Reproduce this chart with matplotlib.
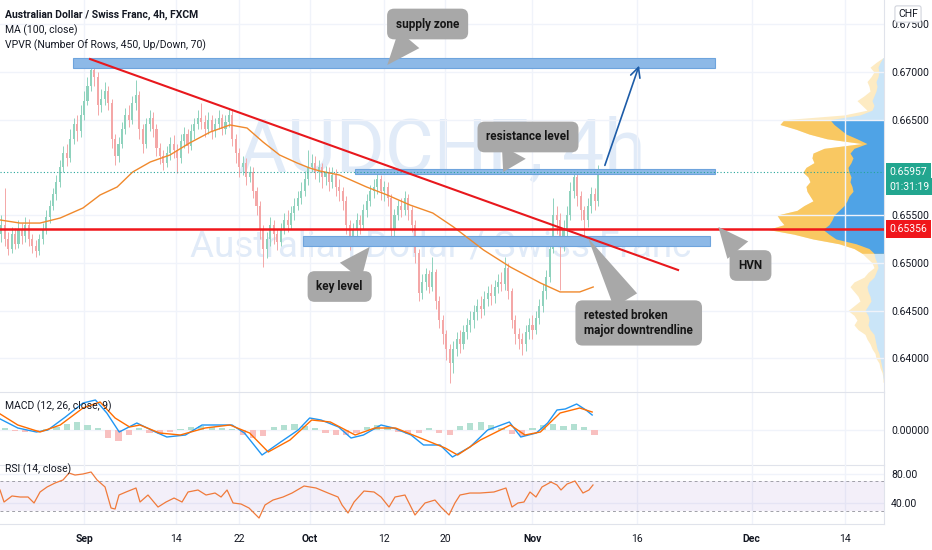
import matplotlib
matplotlib.use("Agg")
import matplotlib.pyplot as plt
from matplotlib.patches import Rectangle
from matplotlib.transforms import blended_transform_factory
import numpy as np

plt.rcParams['font.family'] = ['Roboto', 'DejaVu Sans']

# ---- price data: 4h candles, 3 per trading day, x unit = trading days from Aug 20 ----
first_open = 0.6530
closes = [
    0.6540, 0.6525, 0.6515, 0.6530, 0.6520, 0.6535, 0.6528, 0.6540, 0.6525, 0.6518,
    0.6512, 0.6525, 0.6535, 0.6548, 0.6560, 0.6572, 0.6585, 0.6600, 0.6615, 0.6610,
    0.6630, 0.6645, 0.6638, 0.6655, 0.6670, 0.6685, 0.6702, 0.6695, 0.6665, 0.6672,
    0.6680, 0.6668, 0.6630, 0.6612, 0.6625, 0.6640, 0.6655, 0.6650, 0.6668, 0.6676,
    0.6640, 0.6625, 0.6645, 0.6652, 0.6640, 0.6620, 0.6612, 0.6605, 0.6615, 0.6625,
    0.6618, 0.6610, 0.6628, 0.6635, 0.6622, 0.6638, 0.6645, 0.6652, 0.6648, 0.6640,
    0.6650, 0.6638, 0.6645, 0.6652, 0.6640, 0.6648, 0.6655, 0.6630, 0.6615, 0.6600,
    0.6605, 0.6590, 0.6595, 0.6575, 0.6560, 0.6535, 0.6515, 0.6525, 0.6540, 0.6530,
    0.6522, 0.6535, 0.6545, 0.6540, 0.6552, 0.6560, 0.6568, 0.6575, 0.6588, 0.6600,
    0.6605, 0.6595, 0.6600, 0.6590, 0.6595, 0.6585, 0.6592, 0.6580, 0.6575, 0.6565,
    0.6540, 0.6525, 0.6535, 0.6545, 0.6540, 0.6555, 0.6565, 0.6575, 0.6580, 0.6588,
    0.6575, 0.6580, 0.6568, 0.6535, 0.6550, 0.6560, 0.6555, 0.6568, 0.6555, 0.6540,
    0.6510, 0.6468, 0.6480, 0.6488, 0.6475, 0.6490, 0.6460, 0.6440, 0.6425, 0.6410,
    0.6395, 0.6410, 0.6420, 0.6415, 0.6428, 0.6435, 0.6440, 0.6448, 0.6455, 0.6452,
    0.6462, 0.6468, 0.6465, 0.6475, 0.6480, 0.6478, 0.6495, 0.6470, 0.6440, 0.6425,
    0.6420, 0.6415, 0.6428, 0.6435, 0.6430, 0.6442, 0.6455, 0.6470, 0.6485, 0.6515,
    0.6550, 0.6545, 0.6520, 0.6535, 0.6550, 0.6575, 0.6590, 0.6570, 0.6555, 0.6545,
    0.6560, 0.6572, 0.6565, 0.6596,
]
highs = [
    0.6550, 0.6578, 0.6532, 0.6538, 0.6536, 0.6545, 0.6542, 0.6548, 0.6546, 0.6530,
    0.6524, 0.6530, 0.6542, 0.6555, 0.6566, 0.6578, 0.6592, 0.6608, 0.6622, 0.6625,
    0.6640, 0.6652, 0.6655, 0.6665, 0.6680, 0.6695, 0.6715, 0.6712, 0.6700, 0.6682,
    0.6690, 0.6685, 0.6672, 0.6635, 0.6632, 0.6648, 0.6662, 0.6665, 0.6675, 0.6692,
    0.6680, 0.6645, 0.6652, 0.6660, 0.6658, 0.6645, 0.6626, 0.6618, 0.6622, 0.6632,
    0.6634, 0.6625, 0.6635, 0.6642, 0.6640, 0.6645, 0.6652, 0.6660, 0.6668, 0.6655,
    0.6658, 0.6655, 0.6652, 0.6660, 0.6656, 0.6655, 0.6662, 0.6660, 0.6635, 0.6620,
    0.6612, 0.6610, 0.6602, 0.6600, 0.6580, 0.6565, 0.6540, 0.6532, 0.6548, 0.6545,
    0.6535, 0.6542, 0.6552, 0.6555, 0.6560, 0.6568, 0.6575, 0.6585, 0.6596, 0.6618,
    0.6614, 0.6612, 0.6608, 0.6605, 0.6602, 0.6600, 0.6600, 0.6598, 0.6588, 0.6580,
    0.6570, 0.6545, 0.6542, 0.6552, 0.6550, 0.6562, 0.6572, 0.6582, 0.6588, 0.6594,
    0.6592, 0.6586, 0.6585, 0.6572, 0.6556, 0.6566, 0.6568, 0.6575, 0.6572, 0.6560,
    0.6545, 0.6515, 0.6488, 0.6495, 0.6492, 0.6506, 0.6494, 0.6465, 0.6445, 0.6430,
    0.6415, 0.6418, 0.6428, 0.6430, 0.6435, 0.6442, 0.6450, 0.6456, 0.6462, 0.6465,
    0.6470, 0.6476, 0.6478, 0.6482, 0.6488, 0.6490, 0.6506, 0.6500, 0.6474, 0.6445,
    0.6432, 0.6426, 0.6435, 0.6442, 0.6445, 0.6450, 0.6462, 0.6478, 0.6492, 0.6525,
    0.6568, 0.6560, 0.6552, 0.6545, 0.6560, 0.6585, 0.6597, 0.6594, 0.6575, 0.6560,
    0.6568, 0.6580, 0.6578, 0.6603,
]
lows = [
    0.6522, 0.6518, 0.6508, 0.6510, 0.6514, 0.6516, 0.6520, 0.6522, 0.6518, 0.6510,
    0.6506, 0.6508, 0.6520, 0.6530, 0.6542, 0.6555, 0.6566, 0.6580, 0.6595, 0.6602,
    0.6606, 0.6625, 0.6628, 0.6632, 0.6650, 0.6665, 0.6680, 0.6685, 0.6655, 0.6658,
    0.6665, 0.6660, 0.6620, 0.6603, 0.6606, 0.6620, 0.6635, 0.6642, 0.6645, 0.6660,
    0.6630, 0.6615, 0.6620, 0.6638, 0.6632, 0.6612, 0.6604, 0.6597, 0.6600, 0.6608,
    0.6610, 0.6594, 0.6605, 0.6620, 0.6615, 0.6618, 0.6630, 0.6640, 0.6640, 0.6632,
    0.6635, 0.6630, 0.6632, 0.6640, 0.6634, 0.6635, 0.6642, 0.6622, 0.6605, 0.6590,
    0.6592, 0.6582, 0.6585, 0.6568, 0.6550, 0.6525, 0.6496, 0.6505, 0.6518, 0.6520,
    0.6513, 0.6518, 0.6530, 0.6532, 0.6535, 0.6545, 0.6555, 0.6562, 0.6570, 0.6582,
    0.6595, 0.6588, 0.6585, 0.6578, 0.6582, 0.6575, 0.6578, 0.6570, 0.6565, 0.6555,
    0.6530, 0.6513, 0.6518, 0.6528, 0.6530, 0.6535, 0.6548, 0.6560, 0.6568, 0.6572,
    0.6566, 0.6565, 0.6560, 0.6521, 0.6528, 0.6545, 0.6548, 0.6550, 0.6545, 0.6532,
    0.6500, 0.6460, 0.6462, 0.6472, 0.6468, 0.6470, 0.6452, 0.6432, 0.6415, 0.6398,
    0.6374, 0.6385, 0.6402, 0.6405, 0.6410, 0.6420, 0.6428, 0.6432, 0.6440, 0.6442,
    0.6445, 0.6455, 0.6456, 0.6458, 0.6468, 0.6470, 0.6472, 0.6462, 0.6432, 0.6415,
    0.6410, 0.6403, 0.6408, 0.6420, 0.6420, 0.6425, 0.6436, 0.6448, 0.6462, 0.6480,
    0.6510, 0.6530, 0.6472, 0.6512, 0.6528, 0.6545, 0.6568, 0.6560, 0.6545, 0.6527,
    0.6538, 0.6552, 0.6555, 0.6560,
]

# MA (100, close)
ma_day = [-0.1, 1.8, 3.75, 5.7, 7.9, 9.55, 11.2, 12.7, 14.4, 16.3, 18.2, 20.2, 22.1, 23.75, 25.3,
          26.9, 28.6, 29.8, 30.8, 32.7, 35.3, 37.3, 39.5, 41.7, 43.7, 46.6, 49.2, 52.1, 54.0, 55.9, 57.2]
ma_val = [0.65449, 0.65417, 0.65417, 0.6547, 0.65575, 0.65711, 0.65795, 0.65952, 0.66057, 0.6613,
          0.66256, 0.66371, 0.66445, 0.66413, 0.66266, 0.6613, 0.66046, 0.65994, 0.65962, 0.6592,
          0.65795, 0.65711, 0.65606, 0.65522, 0.65376, 0.65135, 0.64956, 0.64789, 0.64695, 0.64695, 0.64747]

# MACD (12, 26, close, 9)
macd_day = [-0.1, 1.6, 3.4, 4.5, 6.2, 7.9, 9.1, 10.2, 11.4, 13.1, 14.9, 16.0, 17.8, 19.4, 21.1, 22.3,
            23.5, 25.2, 27.0, 28.7, 29.8, 30.9, 32.6, 33.8, 35.0, 36.7, 37.9, 39.6, 40.8, 42.4, 43.6,
            45.3, 47.0, 49.1, 50.2, 51.7, 52.8, 53.7, 54.5, 55.6, 56.5, 57.1]
macd_val = [0.00044, 0.00008, -0.00008, 0.0, 0.00052, 0.00108, 0.0012, 0.00068, -0.00008, 0.00028,
            -0.00008, -0.00028, -0.0002, 0.0002, 0.0002, 0.0002, -0.00012, -0.001, -0.00048, 0.0,
            0.00048, 0.0004, 0.00012, -0.00032, -0.0002, 0.0002, 0.00008, -0.0002, -0.0006, -0.0006,
            -0.00108, -0.00068, 0.0, 0.00032, -0.00028, -0.00012, 0.00028, 0.0008, 0.00084, 0.00104,
            0.0008, 0.0006]
signal_day = [-0.1, 1.6, 3.75, 5.7, 7.9, 9.55, 11.0, 12.4, 13.4, 15.3, 17.3, 19.7, 22.1, 24.0, 25.8,
              27.9, 30.0, 31.8, 34.2, 36.1, 38.1, 40.5, 42.9, 44.1, 46.3, 49.2, 50.6, 52.1, 54.0, 55.9, 57.1]
signal_val = [0.00064, 0.0002, -0.00008, 0.0002, 0.00088, 0.00112, 0.00048, 0.00012, 0.0002, -0.00012,
              -0.0002, 0.00008, 0.0002, -0.00012, -0.00088, -0.0004, 0.0004, 0.00032, -0.0002, 0.00008,
              0.00008, -0.00032, -0.00072, -0.001, -0.0004, 0.0002, -0.0002, -0.00008, 0.00068, 0.00088,
              0.00072]
macd_hist = [0.00008, -0.00004, -0.00008, -0.00004, 0.00004, 0.00012, 0.00024, 0.00032, 0.0002, 0.00008,
             -0.00032, -0.00044, -0.0002, 0.00008, -0.00012, -0.00016, -0.00008, 0.00004, 0.00012, 0.00016,
             0.00012, 0.00008, 0.00004, -0.0002, -0.00032, -0.00024, 0.00012, 0.0002, 0.00024, 0.00016,
             0.00008, -0.00012, -0.0002, -0.0002, -0.00012, 0.00012, 0.0002, 0.00012, -0.00008, -0.00016,
             -0.00012, 0.00008, -0.00012, -0.0002, 0.00016, 0.00028, 0.00032, 0.0002, 0.00008, -0.00016,
             -0.00024, 0.00008, 0.0002, 0.00024, 0.00016, 0.00024, 0.00012, -0.0002]

# RSI (14, close)
rsi_day = [-0.12, 0.27, 1.04, 1.82, 2.59, 3.17, 3.75, 4.43, 5.2, 5.97, 6.55, 7.13, 7.9, 8.68, 9.26,
           10.03, 10.61, 11.0, 11.38, 12.06, 13.02, 13.41, 14.18, 15.15, 15.92, 16.7, 17.47, 18.05,
           19.01, 19.79, 20.66, 21.24, 21.82, 22.4, 23.17, 23.94, 24.91, 25.49, 26.26, 27.23, 28.1,
           29.26, 30.42, 31.58, 32.54, 32.93, 33.51, 34.09, 35.05, 36.02, 36.7, 37.47, 38.05, 39.01,
           39.4, 39.98, 40.95, 41.91, 42.49, 43.27, 43.84, 44.33, 45.29, 46.26, 47.61, 48.77, 49.35,
           49.93, 50.51, 51.09, 51.67, 52.25, 53.12, 53.7, 54.09, 54.67, 55.44, 56.21, 56.79, 57.18]
rsi_val = [57.8, 41.5, 49.7, 48.3, 48.3, 40.2, 55.1, 61.9, 67.3, 71.4, 80.8, 78.1, 79.5, 82.2, 71.4,
           61.9, 33.4, 32.0, 51.0, 55.1, 60.5, 41.5, 51.0, 34.7, 41.5, 46.9, 41.5, 55.1,
           57.8, 51.0, 53.7, 48.3, 57.8, 40.2, 38.8, 33.4, 19.8, 37.5, 44.2, 48.3, 53.7,
           63.2, 60.5, 53.7, 48.3, 37.5, 26.6, 41.5, 56.4, 55.1, 48.3, 34.7, 48.3, 51.0,
           40.2, 23.9, 40.2, 44.2, 34.7, 23.9, 40.2, 51.0, 53.7, 53.7, 55.1, 60.5, 34.7,
           40.2, 41.5, 55.1, 48.3, 61.9, 68.6, 64.6, 57.8, 65.9, 70.0, 53.7, 57.8, 64.6]

# VPVR profile (rows of price, total and up volume)
vp_price = [0.6715, 0.6710, 0.6705, 0.6700, 0.6695, 0.6690, 0.6685, 0.6680, 0.6675, 0.6670, 0.6665,
            0.6660, 0.6655, 0.6650, 0.6645, 0.6640, 0.6635, 0.6630, 0.6625, 0.6620, 0.6615, 0.6610,
            0.6605, 0.6600, 0.6595, 0.6590, 0.6585, 0.6580, 0.6575, 0.6570, 0.6565, 0.6560, 0.6555,
            0.6550, 0.6545, 0.6540, 0.6535, 0.6530, 0.6525, 0.6520, 0.6515, 0.6510, 0.6505, 0.6500,
            0.6495, 0.6490, 0.6485, 0.6480, 0.6475, 0.6470, 0.6465, 0.6460, 0.6455, 0.6450, 0.6445,
            0.6440, 0.6435, 0.6430, 0.6425, 0.6420, 0.6415, 0.6410, 0.6405, 0.6400, 0.6395, 0.6390,
            0.6385, 0.6380, 0.6375]
vp_total = [1, 8, 14, 10, 13, 17, 15, 14, 20, 27, 22, 17, 40, 100, 104, 88, 75, 57, 22, 60, 71, 72,
            70, 78, 81, 76, 74, 78, 77, 74, 71, 80, 87, 107, 104, 100, 116, 90, 71, 45, 30, 22, 17, 12,
            10, 16, 20, 30, 34, 30, 26, 24, 30, 36, 30, 27, 30, 26, 19, 17, 14, 12, 9, 8, 5, 4, 2, 1, 1]
vp_up = [1, 4, 6, 5, 6, 8, 7, 8, 10, 12, 10, 12, 24, 54, 50, 44, 38, 27, 17, 30, 34, 31, 33, 36, 35,
         33, 34, 32, 31, 35, 37, 40, 45, 50, 52, 55, 61, 55, 48, 28, 15, 10, 9, 7, 6, 8, 10, 15, 17, 16,
         14, 13, 16, 19, 16, 15, 16, 14, 10, 9, 8, 7, 5, 4, 3, 2, 1, 1, 0]
va_low, va_high = 0.6510, 0.6650

# drawings on the chart
trend_day = [8.58, 65.4]
trend_price = [0.67136, 0.64925]
hvn_level = 0.65356
last_price = 0.65957
zones = [  # (day from, day to, price low, price high)
    (6.94, 68.96, 0.67042, 0.67147),
    (34.2, 68.96, 0.65932, 0.65984),
    (29.2, 68.5, 0.65176, 0.65281),
]
tick_day = [8.0, 16.9, 23.0, 29.8, 37.0, 42.9, 51.3, 61.4, 72.5, 81.5]
tick_text = ['Sep', '14', '22', 'Oct', '12', '20', 'Nov', '16', 'Dec', '14']

W, H = 932, 550


def px_box(x0, y0, x1, y1):
    return [x0 / W, 1 - y1 / H, (x1 - x0) / W, (y1 - y0) / H]


fig = plt.figure(figsize=(W / 100, H / 100), dpi=100, facecolor='white')
ax_vp = fig.add_axes(px_box(715, 0, 884, 392))
ax = fig.add_axes(px_box(0, 0, 884, 392))
ax_m = fig.add_axes(px_box(0, 392, 884, 465), sharex=ax)
ax_r = fig.add_axes(px_box(0, 465, 884, 524), sharex=ax)

sep_col = '#e0e3eb'
grid_col = '#f0f3fa'
txt_col = '#131722'
for a in (ax, ax_m, ax_r):
    a.set_facecolor('none')
    for s in ('left', 'top'):
        a.spines[s].set_visible(False)
    for s in ('right', 'bottom'):
        a.spines[s].set_color(sep_col)
    a.yaxis.tick_right()
    a.tick_params(axis='y', length=0, pad=5, labelsize=7.5, labelcolor=txt_col)
    a.tick_params(axis='x', length=0)
    a.set_xticks(tick_day)
    a.grid(True, color=grid_col, lw=1)
    a.set_axisbelow(True)
ax.tick_params(labelbottom=False)
ax_m.tick_params(labelbottom=False)
ax_r.set_xticklabels(tick_text)
ax_r.tick_params(axis='x', pad=7, labelsize=7.5, labelcolor=txt_col)
for lbl in ax_r.get_xticklabels():
    if lbl.get_text() in ('Sep', 'Oct', 'Nov', 'Dec'):
        lbl.set_fontweight('bold')

ax.set_xlim(-0.12, 85.3)
ax.set_ylim(0.636464, 0.677546)
price_ticks = [0.640, 0.645, 0.650, 0.655, 0.665, 0.670, 0.675]
ax.set_yticks(price_ticks)
ax.set_yticklabels(['%.5f' % v for v in price_ticks])

# watermark
ax.text(0.5, 0.615, 'AUDCHF, 4h', transform=ax.transAxes, ha='center', va='center',
        fontsize=54, color='#e1ebf8', zorder=0)
ax.text(0.498, 0.37, 'Australian Dollar / Swiss Franc', transform=ax.transAxes, ha='center',
        va='center', fontsize=26.5, color='#e1ebf8', zorder=0)

# volume profile
ax_vp.set_zorder(0)
ax.set_zorder(1)
ax_vp.set_xlim(169, 0)
ax_vp.set_ylim(ax.get_ylim())
ax_vp.axis('off')
vp_p = np.array(vp_price)
inside = (vp_p >= va_low) & (vp_p <= va_high)
ax_vp.fill_betweenx(vp_p, 0, vp_total, color='#fdebc3', lw=0)
ax_vp.fill_betweenx(vp_p, 0, vp_up, color='#cae5f8', lw=0)
ax_vp.fill_betweenx(vp_p, 0, vp_total, where=inside, color='#f9c862', lw=0)
ax_vp.fill_betweenx(vp_p, 0, vp_up, where=inside, color='#4fa3e6', lw=0)

# candles
opens = [first_open] + closes[:-1]
cday = np.arange(len(closes)) / 3.0
up_col, dn_col = '#8fd2bd', '#f4a7a7'
cols = [up_col if c >= o else dn_col for o, c in zip(opens, closes)]
ax.vlines(cday, lows, highs, colors=cols, lw=0.7, zorder=2)
body_lo = np.minimum(opens, closes)
body_h = np.maximum(np.abs(np.array(closes) - np.array(opens)), 0.00004)
ax.bar(cday, body_h, bottom=body_lo, width=0.2, color=cols, lw=0, zorder=2)

ax.plot(ma_day, ma_val, color='#f0892c', lw=1.0, zorder=3)

# zones and lines
for d0, d1, p0, p1 in zones:
    ax.add_patch(Rectangle((d0, p0), d1 - d0, p1 - p0, fc='#8db9e7', ec='#6ea4dd', lw=0.8, zorder=2.5))
ax.axhline(last_price, color='#26a69a', ls=(0, (1, 2)), lw=0.8, zorder=3)
ax.axhline(hvn_level, color='#f0161b', lw=1.8, zorder=4)
ax.plot(trend_day, trend_price, color='#e8181d', lw=1.5, zorder=4)
ax.annotate('', xy=(61.72, 0.67094), xytext=(58.24, 0.65994),
            arrowprops=dict(arrowstyle='->,head_length=0.7,head_width=0.35', color='#1d5ca8', lw=1.2),
            zorder=5)


def callout(text, tip, box, rel):
    ax.annotate(text, xy=tip, xytext=box, ha='center', va='center', multialignment='left',
                fontsize=8.5, fontweight='bold', color='#151515', linespacing=1.15, zorder=6,
                bbox=dict(boxstyle='round,pad=0.75,rounding_size=0.6', fc='#a8a8a8', ec='none'),
                arrowprops=dict(arrowstyle='wedge,tail_width=2.3,shrink_factor=0.5', fc='#a8a8a8',
                                ec='none', relpos=rel, shrinkA=0, shrinkB=0))


callout('supply zone', (37.3, 0.67073), (41.2, 0.67503), (0.35, 0.15))
callout('resistance level', (48.5, 0.65952), (50.9, 0.66319), (0.4, 0.15))
callout('key level', (35.6, 0.65166), (32.7, 0.64752), (0.55, 0.85))
callout('HVN', (69.3, 0.65376), (72.4, 0.64972), (0.35, 0.85))
callout('retested broken\nmajor downtrendline', (56.7, 0.65260), (61.6, 0.64370), (0.45, 0.85))

# right side price labels
tr = blended_transform_factory(ax.transAxes, ax.transData)
ax.text(1.006, last_price, '0.65957', transform=tr, ha='left', va='center', fontsize=7.5,
        color='white', zorder=10, clip_on=False,
        bbox=dict(boxstyle='square,pad=0.35', fc='#22a68f', ec='none'))
ax.text(1.006, last_price - 0.00160, '01:31:19', transform=tr, ha='left', va='center', fontsize=7.5,
        color='white', zorder=10, clip_on=False,
        bbox=dict(boxstyle='square,pad=0.35', fc='#22a68f', ec='none'))
ax.text(1.006, hvn_level, '0.65356', transform=tr, ha='left', va='center', fontsize=7.5,
        color='white', zorder=10, clip_on=False,
        bbox=dict(boxstyle='square,pad=0.35', fc='#f0161b', ec='none'))
fig.text(908 / W, 1 - 14 / H, 'CHF', ha='center', va='center', fontsize=7.5, color=txt_col,
         bbox=dict(boxstyle='round,pad=0.3,rounding_size=0.2', fc='white', ec='#d1d4dc', lw=0.8),
         zorder=20)

# legends
fig.text(5 / W, 1 - 15 / H, 'Australian Dollar / Swiss Franc, 4h, FXCM', fontsize=7.5,
         fontweight='bold', color=txt_col, va='center')
fig.text(5 / W, 1 - 30 / H, 'MA (100, close)', fontsize=7.5, color=txt_col, va='center')
fig.text(5 / W, 1 - 45 / H, 'VPVR (Number Of Rows, 450, Up/Down, 70)', fontsize=7.5, color=txt_col,
         va='center')

# MACD pane
hist_day = np.arange(len(macd_hist)) + 0.33
hist_cols = ['#b3e0d2' if v >= 0 else '#f8c0c0' for v in macd_hist]
ax_m.bar(hist_day, macd_hist, width=0.6, color=hist_cols, lw=0, zorder=2)
ax_m.plot(macd_day, macd_val, color='#2196f3', lw=1.0, zorder=3)
ax_m.plot(signal_day, signal_val, color='#ff6d00', lw=1.0, zorder=3)
ax_m.set_ylim(-0.0014, 0.00152)
ax_m.set_yticks([0.0])
ax_m.set_yticklabels(['0.00000'])
ax_m.text(5 / 884, 0.8, 'MACD (12, 26, close, 9)', transform=ax_m.transAxes, fontsize=7.5,
          color=txt_col, va='center')

# RSI pane
ax_r.axhspan(30, 70, color='#7e57c2', alpha=0.09, lw=0)
ax_r.axhline(70, color='#a0a0a8', ls=(0, (3, 3)), lw=0.7)
ax_r.axhline(30, color='#a0a0a8', ls=(0, (3, 3)), lw=0.7)
ax_r.plot(rsi_day, rsi_val, color='#f07a3a', lw=0.9, zorder=3)
ax_r.set_ylim(11.7, 91.7)
ax_r.set_yticks([40, 80])
ax_r.set_yticklabels(['40.00', '80.00'])
ax_r.text(5 / 884, 0.93, 'RSI (14, close)', transform=ax_r.transAxes, fontsize=7.5,
          color=txt_col, va='center')

fig.savefig('out.png', dpi=100)
